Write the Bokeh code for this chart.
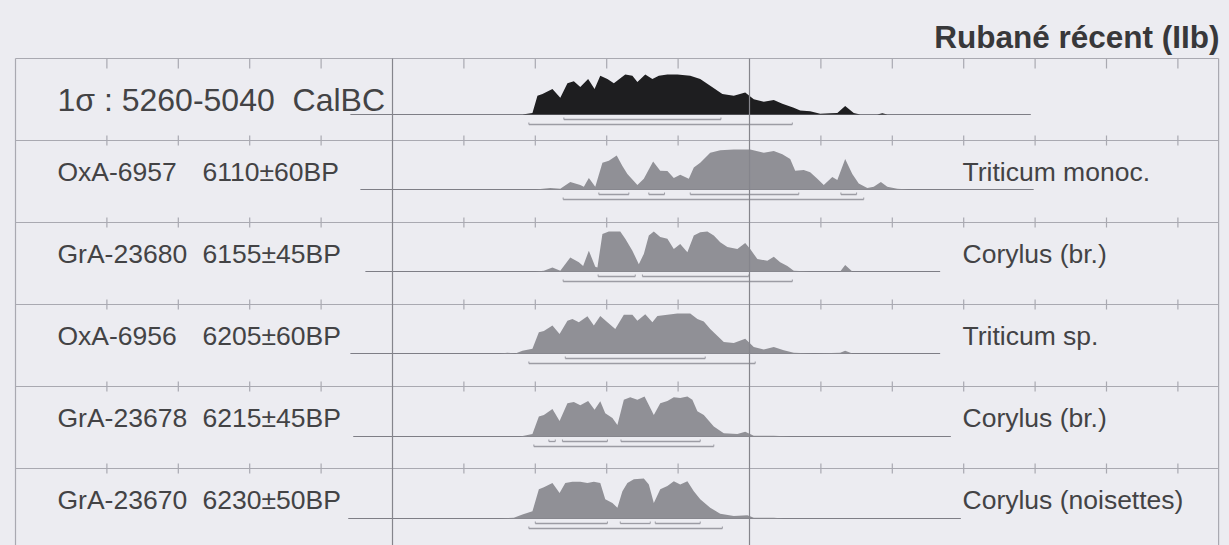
from bokeh.plotting import figure
from bokeh.models import Range1d
from bokeh.embed import file_html
from bokeh.resources import INLINE
from bokeh.core.properties import value

# ---------------- data (calendar years BC, relative probability 0-1) ----------------
r1_bc = [5318, 5304, 5297, 5290, 5276, 5265, 5255, 5246, 5237, 5226, 5217, 5209, 5199, 5190,
         5174, 5164, 5157, 5146, 5136, 5127, 5115, 5101, 5083, 5069, 5055, 5038, 5022, 5006,
         4994, 4980, 4966, 4954, 4938, 4929, 4915, 4901, 4887, 4877, 4866, 4854, 4845, 4821,
         4814, 4807]
r1_p = [0, 0.04, 0.47, 0.51, 0.64, 0.42, 0.78, 0.83, 0.69, 0.89, 0.64, 0.97, 0.89, 0.78,
        1.0, 0.97, 0.81, 1.0, 0.89, 0.97, 1.0, 1.0, 0.97, 0.89, 0.72, 0.51, 0.47, 0.55,
        0.38, 0.32, 0.36, 0.27, 0.17, 0.10, 0.08, 0.02, 0.03, 0.04, 0.21, 0.04, 0, 0,
        0.03, 0]

r2_bc = [5300, 5279, 5265, 5251, 5237, 5232, 5225, 5216, 5206, 5197, 5186, 5178, 5171, 5157,
         5148, 5135, 5125, 5115, 5106, 5097, 5085, 5078, 5069, 5055, 5041, 5022, 4999, 4980,
         4966, 4954, 4943, 4936, 4924, 4915, 4905, 4896, 4884, 4877, 4866, 4856, 4847, 4835,
         4826, 4816, 4807, 4793, 4777]
r2_p = [0, 0.04, 0.02, 0.19, 0.11, 0.07, 0.29, 0.07, 0.67, 0.72, 0.85, 0.59, 0.39, 0.11,
        0.27, 0.70, 0.47, 0.46, 0.29, 0.37, 0.27, 0.55, 0.67, 0.92, 0.98, 1.0, 1.0, 0.92,
        0.96, 0.88, 0.76, 0.47, 0.49, 0.43, 0.27, 0.11, 0.31, 0.24, 0.76, 0.39, 0.15, 0.04,
        0.07, 0.19, 0.07, 0.02, 0]

r3_bc = [5300, 5288, 5276, 5265, 5251, 5239, 5233, 5225, 5216, 5213, 5206, 5197, 5181, 5174,
         5164, 5155, 5148, 5141, 5134, 5125, 5115, 5106, 5097, 5087, 5078, 5069, 5059, 5050,
         5041, 5031, 5017, 5006, 4999, 4989, 4975, 4966, 4957, 4947, 4938, 4915, 4873, 4866,
         4856, 4807]
r3_p = [0, 0.02, 0.10, 0.02, 0.35, 0.23, 0.14, 0.52, 0.12, 0.10, 0.94, 1.0, 1.0, 0.82,
        0.52, 0.18, 0.44, 0.90, 1.0, 0.86, 0.82, 0.56, 0.69, 0.48, 0.90, 0.98, 1.0, 0.90,
        0.73, 0.61, 0.56, 0.71, 0.56, 0.31, 0.27, 0.37, 0.23, 0.14, 0.02, 0, 0, 0.16,
        0, 0]

r4_bc = [5349, 5339, 5328, 5318, 5304, 5295, 5288, 5276, 5266, 5255, 5248, 5239, 5227, 5218,
         5209, 5199, 5188, 5176, 5164, 5157, 5146, 5136, 5129, 5115, 5101, 5083, 5073, 5064,
         5055, 5036, 5022, 5006, 4994, 4980, 4966, 4952, 4938, 4910, 4873, 4866, 4856]
r4_p = [0, 0.02, 0, 0.07, 0.12, 0.53, 0.56, 0.70, 0.49, 0.82, 0.86, 0.78, 0.93, 0.70,
        0.94, 0.78, 0.61, 0.97, 0.97, 0.82, 0.98, 0.78, 0.94, 0.97, 1.0, 1.0, 0.86, 0.80,
        0.61, 0.29, 0.26, 0.37, 0.16, 0.10, 0.16, 0.08, 0.02, 0, 0.02, 0.07, 0]

r5_bc = [5321, 5304, 5295, 5288, 5276, 5266, 5255, 5246, 5237, 5226, 5217, 5209, 5202, 5192,
         5185, 5176, 5167, 5157, 5147, 5141, 5134, 5125, 5115, 5106, 5097, 5087, 5080, 5073,
         5064, 5050, 5036, 5017, 5006, 4994, 4966, 4943]
r5_p = [0, 0.06, 0.50, 0.54, 0.69, 0.39, 0.83, 0.86, 0.78, 0.89, 0.67, 0.88, 0.58, 0.46,
        0.29, 0.92, 0.98, 0.92, 1.0, 0.79, 0.54, 0.83, 0.89, 0.98, 0.96, 1.0, 0.92, 0.63,
        0.54, 0.25, 0.08, 0.06, 0.12, 0.02, 0.02, 0]

r6_bc = [5349, 5330, 5318, 5304, 5295, 5288, 5276, 5266, 5258, 5248, 5237, 5227, 5218, 5209,
         5202, 5192, 5185, 5178, 5171, 5162, 5148, 5141, 5134, 5125, 5115, 5106, 5097, 5087,
         5078, 5069, 5055, 5041, 5022, 5003, 4994, 4966, 4952]
r6_p = [0, 0.02, 0.10, 0.18, 0.73, 0.78, 0.89, 0.64, 0.89, 0.92, 0.92, 0.89, 0.92, 0.89,
        0.48, 0.39, 0.27, 0.68, 0.89, 0.98, 1.0, 0.85, 0.39, 0.73, 0.81, 0.93, 0.85, 0.93,
        0.68, 0.48, 0.27, 0.12, 0.06, 0.08, 0.02, 0.02, 0]

curves_bc = [r1_bc, r2_bc, r3_bc, r4_bc, r5_bc, r6_bc]
curves_p = [r1_p, r2_p, r3_p, r4_p, r5_p, r6_p]

NB = "\u00a0"
row1_label = "1σ : 5260-5040" + NB + NB + "CalBC"
lab_ids = ["OxA-6957", "GrA-23680", "OxA-6956", "GrA-23678", "GrA-23670"]
lab_dates = ["6110±60BP", "6155±45BP", "6205±60BP", "6215±45BP", "6230±50BP"]
labels_right = ["Triticum monoc.", "Corylus (br.)", "Triticum sp.",
                "Corylus (br.)", "Corylus (noisettes)"]

# 1 sigma and 2 sigma ranges (BC)
sigma1 = [[(5260, 5040)],
          [(5211, 5169), (5141, 5119), (5083, 4931), (4872, 4850)],
          [(5212, 5160), (5150, 5001)],
          [(5258, 5062)],
          [(5281, 5272), (5262, 5199), (5180, 5069)],
          [(5300, 5199), (5181, 5139), (5132, 5069)]]
sigma2 = [[(5309, 4940)], [(5261, 4840)], [(5261, 4940)],
          [(5309, 4992)], [(5302, 5050)], [(5309, 5038)]]

# extent of each row's baseline (BC)
base_span = [(5559, 4606), (5545, 4602), (5538, 4733), (5559, 4733), (5555, 4718), (5562, 4704)]

title = "Rubané récent (IIb)"

# ---------------- layout / style ----------------
BG = "#ECECF1"
GRID = "#A9A9B1"
VLINE = "#85858C"
BASE = "#7E7E86"
FILL = "#909096"
BLACK = "#1E1E20"
TXT = "#434345"
FONT = "Liberation Sans"

W, H = 1229, 545
PX_PER_YR = 0.714
X5000 = 749.0           # pixel column of 5000 BC
ROW_TOP = [58, 140, 222, 304, 386, 468]
ROW_BOTTOM = 552
BASELINE = [114, 189, 271, 353, 436, 518]
PEAK = 40.0
FRAME_L_BC, FRAME_R_BC = 6028, 4343


def px(xpix):
    return -5000 + (xpix - X5000) / PX_PER_YR


p = figure(width=W, height=H, output_backend="svg", toolbar_location=None,
           x_range=Range1d(px(0), px(W)), y_range=Range1d(H, 0),
           min_border=0, background_fill_color=BG, border_fill_color=BG,
           outline_line_color=None)
p.axis.visible = False
p.grid.visible = False

# row separators and frame
for yt in ROW_TOP:
    p.segment(x0=[-FRAME_L_BC], y0=[yt], x1=[-FRAME_R_BC], y1=[yt], line_color=GRID, line_width=1.2)
p.segment(x0=[-FRAME_L_BC, -FRAME_R_BC], y0=[ROW_TOP[0]] * 2,
          x1=[-FRAME_L_BC, -FRAME_R_BC], y1=[ROW_BOTTOM] * 2, line_color=GRID, line_width=1.2)

# century ticks on every row line
tick_years = [y for y in range(5900, 4300, -100) if y not in (5500, 5000)]
for i, yt in enumerate(ROW_TOP):
    up = 0 if i == 0 else 5
    down = 10 if i == 0 else 5
    p.segment(x0=[-t for t in tick_years], y0=[yt - up] * len(tick_years),
              x1=[-t for t in tick_years], y1=[yt + down] * len(tick_years),
              line_color=GRID, line_width=1.2)

# baselines
for k in range(6):
    a, b = base_span[k]
    p.segment(x0=[-a], y0=[BASELINE[k]], x1=[-b], y1=[BASELINE[k]], line_color=BASE, line_width=1.2)

# probability distributions
for k in range(6):
    xs = [-v for v in curves_bc[k]]
    ys = [BASELINE[k] - PEAK * v for v in curves_p[k]]
    p.varea(x=xs, y1=[BASELINE[k]] * len(xs), y2=ys, fill_color=BLACK if k == 0 else FILL)

# sigma ranges
SIG_C = "#9C9CA4"
for k in range(6):
    for (rows, off) in ((sigma1[k], 5), (sigma2[k], 10)):
        yb = BASELINE[k] + off
        for a, b in rows:
            p.segment(x0=[-a], y0=[yb], x1=[-b], y1=[yb], line_color=SIG_C, line_width=1.3)
            p.segment(x0=[-a, -b], y0=[yb - 2, yb - 2], x1=[-a, -b], y1=[yb, yb],
                      line_color=SIG_C, line_width=1.0)

# 5500 BC and 5000 BC lines
p.segment(x0=[-5500, -5000], y0=[ROW_TOP[0]] * 2, x1=[-5500, -5000], y1=[ROW_BOTTOM] * 2,
          line_color=VLINE, line_width=1.2)

# texts
lab_y = [t + 31 for t in ROW_TOP[1:]]
p.text(x=[px(57)], y=[ROW_TOP[0] + 41], text=[row1_label], text_font=value(FONT),
       text_font_size="32px", text_color=TXT, text_baseline="middle", text_align="left")
p.text(x=[px(57)] * 5, y=lab_y, text=lab_ids, text_font=value(FONT),
       text_font_size="26.5px", text_color=TXT, text_baseline="middle", text_align="left")
p.text(x=[px(202)] * 5, y=lab_y, text=lab_dates, text_font=value(FONT),
       text_font_size="26.5px", text_color=TXT, text_baseline="middle", text_align="left")
p.text(x=[px(962)] * 5, y=lab_y, text=labels_right, text_font=value(FONT),
       text_font_size="26.5px", text_color=TXT, text_baseline="middle", text_align="left")
p.text(x=[px(1219)], y=[36], text=[title], text_font=value(FONT), text_font_style="bold",
       text_font_size="31.5px", text_color="#38383A", text_baseline="middle", text_align="right")

html = file_html(p, INLINE)
html = html.replace("<head>", "<head><style>body{background:%s;}</style>" % BG, 1)
open("out.html", "w").write(html)
